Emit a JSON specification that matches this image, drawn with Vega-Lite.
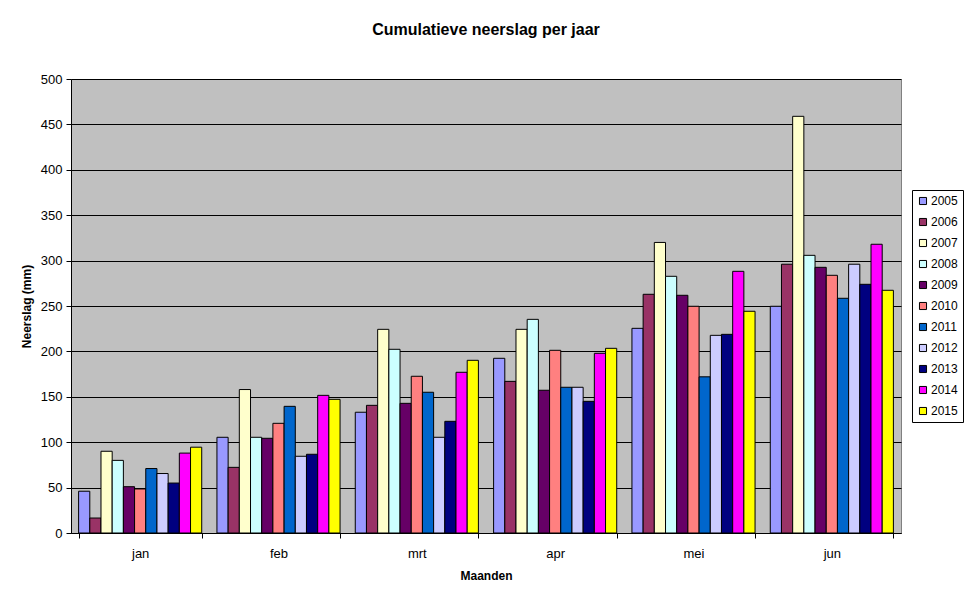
{
  "$schema": "https://vega.github.io/schema/vega-lite/v6.json",
  "autosize": "none",
  "width": 830,
  "height": 454,
  "padding": {"left": 71, "top": 79, "right": 68, "bottom": 69},
  "background": "white",
  "title": {
    "text": "Cumulatieve neerslag per jaar",
    "font": "Liberation Sans",
    "fontSize": 16,
    "fontWeight": "bold",
    "color": "black",
    "anchor": "middle",
    "offset": 35
  },
  "data": {
    "values": [
      {"maand": "jan", "jaar": "2005", "neerslag": 46},
      {"maand": "jan", "jaar": "2006", "neerslag": 16.5},
      {"maand": "jan", "jaar": "2007", "neerslag": 90},
      {"maand": "jan", "jaar": "2008", "neerslag": 80},
      {"maand": "jan", "jaar": "2009", "neerslag": 51},
      {"maand": "jan", "jaar": "2010", "neerslag": 48.5},
      {"maand": "jan", "jaar": "2011", "neerslag": 71},
      {"maand": "jan", "jaar": "2012", "neerslag": 65.5},
      {"maand": "jan", "jaar": "2013", "neerslag": 55},
      {"maand": "jan", "jaar": "2014", "neerslag": 88},
      {"maand": "jan", "jaar": "2015", "neerslag": 94.5},
      {"maand": "feb", "jaar": "2005", "neerslag": 105.4},
      {"maand": "feb", "jaar": "2006", "neerslag": 72.3},
      {"maand": "feb", "jaar": "2007", "neerslag": 158},
      {"maand": "feb", "jaar": "2008", "neerslag": 105.4},
      {"maand": "feb", "jaar": "2009", "neerslag": 104.3},
      {"maand": "feb", "jaar": "2010", "neerslag": 120.8},
      {"maand": "feb", "jaar": "2011", "neerslag": 139.5},
      {"maand": "feb", "jaar": "2012", "neerslag": 84.5},
      {"maand": "feb", "jaar": "2013", "neerslag": 86.7},
      {"maand": "feb", "jaar": "2014", "neerslag": 151.6},
      {"maand": "feb", "jaar": "2015", "neerslag": 147.2},
      {"maand": "mrt", "jaar": "2005", "neerslag": 133},
      {"maand": "mrt", "jaar": "2006", "neerslag": 140.6},
      {"maand": "mrt", "jaar": "2007", "neerslag": 224.3},
      {"maand": "mrt", "jaar": "2008", "neerslag": 202.3},
      {"maand": "mrt", "jaar": "2009", "neerslag": 142.8},
      {"maand": "mrt", "jaar": "2010", "neerslag": 172.6},
      {"maand": "mrt", "jaar": "2011", "neerslag": 155},
      {"maand": "mrt", "jaar": "2012", "neerslag": 105.4},
      {"maand": "mrt", "jaar": "2013", "neerslag": 123},
      {"maand": "mrt", "jaar": "2014", "neerslag": 177},
      {"maand": "mrt", "jaar": "2015", "neerslag": 190.2},
      {"maand": "apr", "jaar": "2005", "neerslag": 192.4},
      {"maand": "apr", "jaar": "2006", "neerslag": 167},
      {"maand": "apr", "jaar": "2007", "neerslag": 224.3},
      {"maand": "apr", "jaar": "2008", "neerslag": 235.3},
      {"maand": "apr", "jaar": "2009", "neerslag": 157.2},
      {"maand": "apr", "jaar": "2010", "neerslag": 201.2},
      {"maand": "apr", "jaar": "2011", "neerslag": 160.5},
      {"maand": "apr", "jaar": "2012", "neerslag": 160.5},
      {"maand": "apr", "jaar": "2013", "neerslag": 145},
      {"maand": "apr", "jaar": "2014", "neerslag": 197.9},
      {"maand": "apr", "jaar": "2015", "neerslag": 203.4},
      {"maand": "mei", "jaar": "2005", "neerslag": 225.4},
      {"maand": "mei", "jaar": "2006", "neerslag": 262.9},
      {"maand": "mei", "jaar": "2007", "neerslag": 320},
      {"maand": "mei", "jaar": "2008", "neerslag": 282.7},
      {"maand": "mei", "jaar": "2009", "neerslag": 261.8},
      {"maand": "mei", "jaar": "2010", "neerslag": 249.7},
      {"maand": "mei", "jaar": "2011", "neerslag": 172},
      {"maand": "mei", "jaar": "2012", "neerslag": 217.7},
      {"maand": "mei", "jaar": "2013", "neerslag": 218.8},
      {"maand": "mei", "jaar": "2014", "neerslag": 288.2},
      {"maand": "mei", "jaar": "2015", "neerslag": 244.2},
      {"maand": "jun", "jaar": "2005", "neerslag": 249.7},
      {"maand": "jun", "jaar": "2006", "neerslag": 296},
      {"maand": "jun", "jaar": "2007", "neerslag": 458.9},
      {"maand": "jun", "jaar": "2008", "neerslag": 305.8},
      {"maand": "jun", "jaar": "2009", "neerslag": 292.6},
      {"maand": "jun", "jaar": "2010", "neerslag": 283.8},
      {"maand": "jun", "jaar": "2011", "neerslag": 258.5},
      {"maand": "jun", "jaar": "2012", "neerslag": 296},
      {"maand": "jun", "jaar": "2013", "neerslag": 273.9},
      {"maand": "jun", "jaar": "2014", "neerslag": 318},
      {"maand": "jun", "jaar": "2015", "neerslag": 267.3}
    ]
  },
  "mark": {"type": "bar", "stroke": "black", "strokeWidth": 1},
  "encoding": {
    "x": {
      "field": "maand",
      "type": "nominal",
      "sort": ["jan", "feb", "mrt", "apr", "mei", "jun"],
      "title": "Maanden",
      "scale": {"paddingInner": 0.11, "paddingOuter": 0.055},
      "axis": {
        "labelAngle": 0,
        "tickBand": "extent",
        "tickSize": 5,
        "tickColor": "black",
        "domainColor": "black",
        "labelPadding": 9,
        "titlePadding": 10
      }
    },
    "xOffset": {
      "field": "jaar",
      "type": "nominal",
      "scale": {"paddingInner": 0, "paddingOuter": 0}
    },
    "y": {
      "field": "neerslag",
      "type": "quantitative",
      "title": "Neerslag (mm)",
      "scale": {"domain": [0, 500], "nice": false},
      "axis": {
        "values": [0, 50, 100, 150, 200, 250, 300, 350, 400, 450, 500],
        "grid": true,
        "gridColor": "black",
        "gridOpacity": 1,
        "gridWidth": 1,
        "tickSize": 5,
        "tickColor": "black",
        "domainColor": "black",
        "labelPadding": 4,
        "titlePadding": 7
      }
    },
    "color": {
      "field": "jaar",
      "type": "nominal",
      "title": null,
      "scale": {
        "domain": ["2005", "2006", "2007", "2008", "2009", "2010", "2011", "2012", "2013", "2014", "2015"],
        "range": ["#9999FF", "#993366", "#FFFFCC", "#CCFFFF", "#660066", "#FF8080", "#0066CC", "#CCCCFF", "#000080", "#FF00FF", "#FFFF00"]
      },
      "legend": {
        "orient": "none",
        "legendX": 841,
        "legendY": 111,
        "strokeColor": "black",
        "padding": 5,
        "symbolType": "square",
        "symbolSize": 50,
        "symbolStrokeColor": "black",
        "symbolStrokeWidth": 1,
        "symbolOpacity": 1,
        "labelFontSize": 12,
        "labelFont": "Liberation Sans",
        "labelColor": "black",
        "labelOffset": 2,
        "rowPadding": 9
      }
    }
  },
  "config": {
    "view": {"fill": "#C0C0C0", "stroke": "#808080", "strokeWidth": 1},
    "axis": {
      "labelFont": "Liberation Sans",
      "labelFontSize": 13,
      "labelColor": "black",
      "titleFont": "Liberation Sans",
      "titleFontSize": 12,
      "titleFontWeight": "bold",
      "titleColor": "black"
    },
    "axisX": {"grid": false}
  }
}
